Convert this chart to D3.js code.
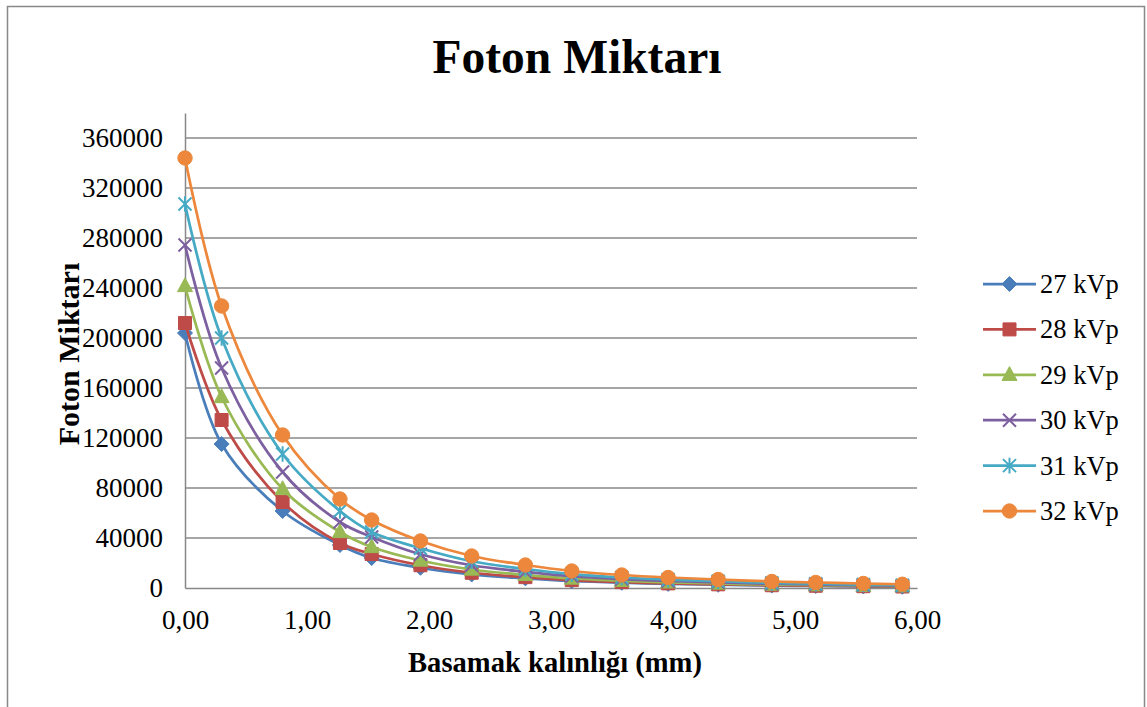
<!DOCTYPE html>
<html>
<head>
<meta charset="utf-8">
<script src="https://cdn.jsdelivr.net/npm/d3@7"></script>
<style>
  html, body { margin: 0; padding: 0; background: #fff; }
  svg { display: block; font-family: "Liberation Serif", "Times New Roman", serif; }
</style>
</head>
<body>
<svg id="chart" width="1147" height="707"></svg>
<script>
// Step thickness (mm)
const thickness = [0, 0.30, 0.80, 1.27, 1.53, 1.93, 2.35, 2.79, 3.17, 3.58, 3.96, 4.37, 4.81, 5.17, 5.56, 5.88];

// Photon counts per tube voltage
const kvp27 = [204000, 115200, 61600, 34400, 24000, 16200, 10800, 7700, 5600, 4200, 3300, 2600, 1950, 1600, 1250, 1000];
const kvp28 = [212000, 134400, 68800, 36000, 27200, 18200, 12200, 8700, 6300, 4700, 3700, 2950, 2200, 1800, 1450, 1200];
const kvp29 = [241600, 152800, 79200, 44800, 32800, 22000, 14800, 10500, 7600, 5700, 4500, 3600, 2700, 2250, 1800, 1450];
const kvp30 = [274400, 176000, 92800, 52800, 40800, 27000, 18200, 12900, 9400, 7100, 5600, 4500, 3400, 2800, 2250, 1850];
const kvp31 = [307200, 200000, 107200, 61600, 44800, 31800, 21400, 15200, 11100, 8400, 6700, 5400, 4100, 3400, 2750, 2250];
const kvp32 = [344000, 225600, 122400, 71200, 54400, 37600, 25600, 18400, 13600, 10400, 8400, 6800, 5200, 4400, 3600, 3000];

const seriesNames = ["27 kVp", "28 kVp", "29 kVp", "30 kVp", "31 kVp", "32 kVp"];
const seriesValues = [kvp27, kvp28, kvp29, kvp30, kvp31, kvp32];
const seriesColors = ["#4A7EBB", "#BE4B48", "#98B954", "#7D60A0", "#46AAC5", "#EC873B"];
const seriesMarkers = ["diamond", "square", "triangle", "cross", "star", "circle"];

const yTicks = [0, 40000, 80000, 120000, 160000, 200000, 240000, 280000, 320000, 360000];
const xTicks = [0, 1, 2, 3, 4, 5, 6];

const svg = d3.select("#chart");
const gridColor = "#888888";

// Chart frame
svg.append("rect")
  .attr("x", 7.5).attr("y", 6.5)
  .attr("width", 1137).attr("height", 720)
  .attr("fill", "#fff").attr("stroke", gridColor).attr("stroke-width", 1.5);

const plot = { left: 185, right: 917, top: 113, bottom: 588 };

const x = d3.scaleLinear().domain([0, 6]).range([plot.left, plot.right]);
const y = d3.scaleLinear().domain([0, 380000]).range([plot.bottom, plot.top]);

// Horizontal gridlines
svg.append("g")
  .selectAll("line")
  .data(yTicks.filter(d => d > 0))
  .join("line")
  .attr("x1", plot.left).attr("x2", plot.right)
  .attr("y1", d => y(d)).attr("y2", d => y(d))
  .attr("stroke", gridColor).attr("stroke-width", 1.5);

// Y axis
const yAxis = svg.append("g")
  .attr("transform", `translate(${plot.left},0)`)
  .call(d3.axisLeft(y).tickValues(yTicks).tickSize(0).tickPadding(22).tickFormat(d3.format("d")));
yAxis.select(".domain").attr("stroke", gridColor).attr("stroke-width", 1.5);
yAxis.selectAll("text")
  .attr("font-size", "27px").attr("fill", "#000")
  .attr("font-family", "Liberation Serif, Times New Roman, serif");

// X axis
const xAxis = svg.append("g")
  .attr("transform", `translate(0,${plot.bottom})`)
  .call(d3.axisBottom(x).tickValues(xTicks).tickSize(0).tickPadding(22)
    .tickFormat(d => d3.format(".2f")(d).replace(".", ",")));
xAxis.select(".domain").attr("stroke", gridColor).attr("stroke-width", 1.5);
xAxis.selectAll("text")
  .attr("font-size", "27px").attr("fill", "#000")
  .attr("font-family", "Liberation Serif, Times New Roman, serif");

// Marker shapes
function markerPath(type, s) {
  switch (type) {
    case "diamond": return `M0,${-s}L${s},0L0,${s}L${-s},0Z`;
    case "square": return `M${-s},${-s}H${s}V${s}H${-s}Z`;
    case "triangle": return `M0,${-s * 1.1}L${s},${s * 0.75}L${-s},${s * 0.75}Z`;
    case "cross": return `M${-s},${-s}L${s},${s}M${s},${-s}L${-s},${s}`;
    case "star": return `M${-s},${-s}L${s},${s}M${s},${-s}L${-s},${s}M0,${-s * 1.2}V${s * 1.2}`;
    case "circle": return d3.symbol(d3.symbolCircle, Math.PI * s * s)();
  }
}
const markerSize = { diamond: 7.5, square: 6.5, triangle: 7.5, cross: 6.5, star: 6.5, circle: 7.2 };
const lineMarker = t => t === "cross" || t === "star";

const line = d3.line()
  .x(d => x(d[0]))
  .y(d => y(d[1]))
  .curve(d3.curveCatmullRom.alpha(0.5));

seriesValues.forEach((vals, i) => {
  const pts = thickness.map((t, j) => [t, vals[j]]);
  const g = svg.append("g");
  g.append("path")
    .datum(pts)
    .attr("d", line)
    .attr("fill", "none")
    .attr("stroke", seriesColors[i])
    .attr("stroke-width", 2.75)
    .attr("stroke-linejoin", "round");
  const type = seriesMarkers[i];
  g.selectAll(".mk")
    .data(pts)
    .join("path")
    .attr("class", "mk")
    .attr("transform", d => `translate(${x(d[0])},${y(d[1])})`)
    .attr("d", markerPath(type, markerSize[type]))
    .attr("fill", lineMarker(type) ? "none" : seriesColors[i])
    .attr("stroke", seriesColors[i])
    .attr("stroke-width", lineMarker(type) ? 2 : 1);
});

// Legend
const legend = svg.append("g");
seriesNames.forEach((name, i) => {
  const ly = 284 + i * 45.4;
  const type = seriesMarkers[i];
  legend.append("line")
    .attr("x1", 983).attr("x2", 1036).attr("y1", ly).attr("y2", ly)
    .attr("stroke", seriesColors[i]).attr("stroke-width", 2.75);
  legend.append("path")
    .attr("transform", `translate(1009.5,${ly})`)
    .attr("d", markerPath(type, markerSize[type]))
    .attr("fill", lineMarker(type) ? "none" : seriesColors[i])
    .attr("stroke", seriesColors[i])
    .attr("stroke-width", lineMarker(type) ? 2 : 1);
  legend.append("text")
    .attr("x", 1040).attr("y", ly)
    .attr("dominant-baseline", "central")
    .attr("font-size", "26.5px")
    .attr("fill", "#000")
    .text(name);
});

// Titles
svg.append("text")
  .attr("x", 577).attr("y", 73)
  .attr("text-anchor", "middle")
  .attr("font-size", "47.5px").attr("font-weight", "bold")
  .text("Foton Miktarı");

svg.append("text")
  .attr("x", 555).attr("y", 672)
  .attr("text-anchor", "middle")
  .attr("font-size", "28.6px").attr("font-weight", "bold")
  .text("Basamak kalınlığı (mm)");

svg.append("text")
  .attr("transform", "translate(79,354) rotate(-90)")
  .attr("text-anchor", "middle")
  .attr("font-size", "30px").attr("font-weight", "bold")
  .text("Foton Miktarı");
</script>
</body>
</html>
